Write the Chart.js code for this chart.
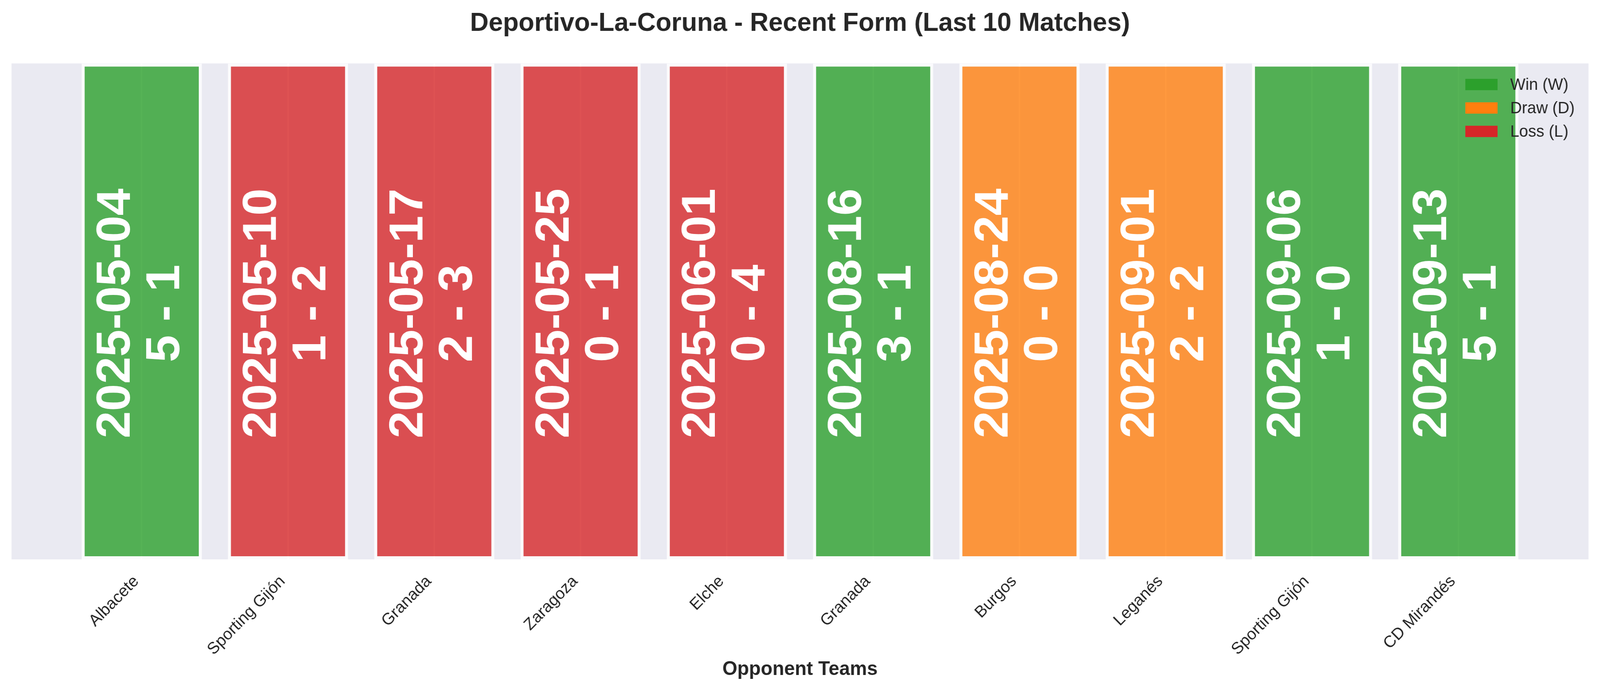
<!DOCTYPE html>
<html>
<head>
<meta charset="utf-8">
<title>Deportivo-La-Coruna - Recent Form</title>
<script src="https://cdn.jsdelivr.net/npm/chart.js@4.4.1/dist/chart.umd.min.js"></script>
<style>
    html, body { margin: 0; padding: 0; background: #ffffff; overflow: hidden; }
    #formChart { display: block; }
</style>
</head>
<body>
<canvas id="formChart" width="4170" height="1769"></canvas>
<script>
// last 10 matches, oldest first
const opponents = ['Albacete', 'Sporting Gijón', 'Granada', 'Zaragoza', 'Elche',
    'Granada', 'Burgos', 'Leganés', 'Sporting Gijón', 'CD Mirandés'];
const matchDates = ['2025-05-04', '2025-05-10', '2025-05-17', '2025-05-25', '2025-06-01',
    '2025-08-16', '2025-08-24', '2025-09-01', '2025-09-06', '2025-09-13'];
const scores = ['5 - 1', '1 - 2', '2 - 3', '0 - 1', '0 - 4', '3 - 1', '0 - 0', '2 - 2', '1 - 0', '5 - 1'];
const results = ['W', 'L', 'L', 'L', 'L', 'W', 'D', 'D', 'W', 'W'];
// every match is one full-height bar
const barHeights = [1, 1, 1, 1, 1, 1, 1, 1, 1, 1];

const legendKeys = ['W', 'D', 'L'];
const legendLabels = ['Win (W)', 'Draw (D)', 'Loss (L)'];

const FONT = '"Liberation Sans", Arial, Helvetica, sans-serif';
const TEXT_COLOR = '#262626';
const resultRgb = { W: '44,160,44', D: '255,127,14', L: '214,39,40' };

Chart.defaults.font.family = FONT;
Chart.defaults.color = TEXT_COLOR;

// drawing is done at 4170x1769, the canvas is just stretched to the window
const canvas = document.getElementById('formChart');
canvas.style.width = window.innerWidth + 'px';
canvas.style.height = window.innerHeight + 'px';

// grey seaborn-like plot area
const plotBackground = {
    id: 'plotBackground',
    beforeDraw: function (chart) {
        const a = chart.chartArea;
        const ctx = chart.ctx;
        ctx.save();
        ctx.fillStyle = '#EAEAF2';
        ctx.fillRect(a.left, a.top, a.right - a.left, a.bottom - a.top);
        ctx.restore();
    }
};

// date + score written vertically in each bar
const barLabels = {
    id: 'barLabels',
    afterDatasetsDraw: function (chart) {
        const ctx = chart.ctx;
        const meta = chart.getDatasetMeta(0);
        const size = 125;
        const capHalf = size * 0.716 / 2;
        ctx.save();
        ctx.fillStyle = '#ffffff';
        ctx.font = 'bold ' + size + 'px ' + FONT;
        ctx.textAlign = 'center';
        ctx.textBaseline = 'alphabetic';
        meta.data.forEach(function (bar, i) {
            const midY = (bar.y + bar.base) / 2 + 5;
            ctx.save();
            ctx.translate(bar.x, midY);
            ctx.rotate(-Math.PI / 2);
            ctx.fillText(matchDates[i], 0, -76 + capHalf);
            ctx.fillText(scores[i], 0, 53 + capHalf);
            ctx.restore();
        });
        ctx.restore();
    }
};

// legend in the upper right corner of the plot, no frame
const formLegend = {
    id: 'formLegend',
    afterDraw: function (chart) {
        const a = chart.chartArea;
        const ctx = chart.ctx;
        ctx.save();
        ctx.font = '42px ' + FONT;
        ctx.textBaseline = 'middle';
        ctx.textAlign = 'left';
        legendKeys.forEach(function (key, i) {
            const cy = a.top + 54 + i * 60;
            ctx.fillStyle = 'rgb(' + resultRgb[key] + ')';
            ctx.fillRect(a.right - 321, cy - 14.5, 84, 29);
            ctx.fillStyle = TEXT_COLOR;
            ctx.fillText(legendLabels[i], a.right - 204, cy + 2);
        });
        ctx.restore();
    }
};

const data = {
    datasets: [{
        label: 'Form',
        data: barHeights.map(function (h, i) { return { x: i, y: h }; }),
        backgroundColor: results.map(function (r) { return 'rgba(' + resultRgb[r] + ',0.8)'; }),
        borderColor: 'rgba(255,255,255,0.8)',
        borderWidth: 8,
        borderSkipped: false,
        barPercentage: 0.822,
        categoryPercentage: 1.0
    }]
};
const config = {
    type: 'bar',
    data: data,
    options: {
        responsive: false,
        animation: false,
        devicePixelRatio: 1,
        layout: {
            padding: { left: 30, right: 30, top: 0, bottom: 0 }
        },
        plugins: {
            legend: { display: false },
            tooltip: { enabled: false },
            title: {
                display: true,
                text: 'Deportivo-La-Coruna - Recent Form (Last 10 Matches)',
                color: TEXT_COLOR,
                font: { size: 67, weight: 'bold' },
                padding: { top: 20, bottom: 62 }
            }
        },
        scales: {
            x: {
                type: 'linear',
                min: -0.89,
                max: 9.89,
                offset: false,
                grid: { offset: false, color: '#ffffff', lineWidth: 4, drawTicks: false },
                border: { display: false },
                ticks: {
                    stepSize: 1,
                    includeBounds: false,
                    autoSkip: false,
                    minRotation: 45,
                    maxRotation: 45,
                    padding: 32,
                    labelOffset: -14,
                    color: TEXT_COLOR,
                    font: { size: 42 },
                    callback: function (value) {
                        return opponents[Math.round(value)];
                    }
                },
                title: {
                    display: true,
                    text: 'Opponent Teams',
                    color: TEXT_COLOR,
                    font: { size: 50, weight: 'bold' },
                    padding: { top: 0, bottom: 25 }
                },
                afterFit: function (scale) {
                    scale.height = 337;
                }
            },
            y: {
                display: false,
                min: 0,
                max: 1
            }
        }
    },
    plugins: [plotBackground, barLabels, formLegend]
};
const formChart = new Chart(canvas, config);
</script>
</body>
</html>
